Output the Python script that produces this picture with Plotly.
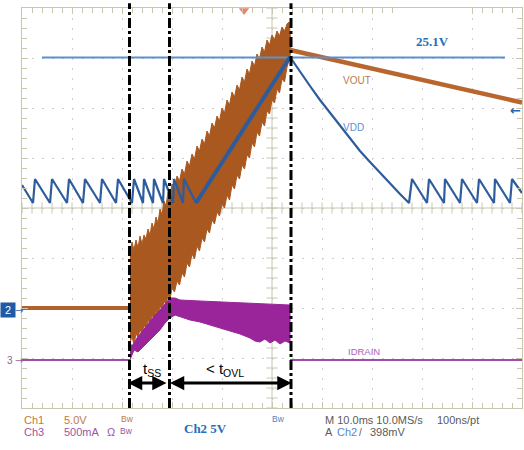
import plotly.graph_objects as go

# Horizontal axis: time in ms (10 ms/div, 10 divisions); vertical axis: screen divisions (0..8)
# ---- VDD (Ch2, blue) ----
vdd_saw_t = [0, 2.2, 2.6, 5.6, 6.0, 9.0, 9.4, 12.2, 12.6, 15.6, 16.0, 18.8, 19.2,
             22.0, 22.4, 24.2, 24.4, 26.2, 26.4, 28.2, 28.4, 30.2, 30.4, 32.2, 32.4, 34.8]
vdd_saw_d = [4.46] + [4.10, 4.58] * 12 + [4.10]
vdd_ramp_t = [34.8, 53.6]
vdd_ramp_d = [4.10, 7.02]
vdd_decay_t = [53.6, 55.6, 57.6, 59.6, 61.6, 63.6, 65.6, 67.6, 69.6, 71.6, 73.6, 75.6,
               77.4, 78.0, 81.0, 81.4, 84.4, 84.6, 87.6, 88.0, 91.0, 91.4, 94.4, 94.6, 97.6, 98.0, 100.0]
vdd_decay_d = [7.02, 6.72, 6.44, 6.16, 5.90, 5.64, 5.38, 5.14, 4.92, 4.70, 4.48, 4.28] + \
              [4.10, 4.58] * 7 + [4.30]

# ---- 25.1 V reference level ----
ref_t = [4.0, 96.6]
ref_d = [7.01, 7.01]

# ---- VOUT (Ch1, brown) ----
vout_flat_t = [0, 21.6]
vout_flat_d = [2.0, 2.0]
vout_top_t = [21.6, 22.0, 22.4, 22.8, 23.2, 23.6, 24.0, 24.4, 24.8, 25.2, 25.6, 26.0, 26.4, 26.8,
              27.2, 27.6, 28.0, 28.4, 28.8, 29.2, 29.6, 30.0, 30.5, 31.0, 31.5, 32.0, 32.5, 33.0,
              33.5, 34.0, 34.5, 35.0, 35.5, 36.0, 36.5, 37.0, 37.5, 38.0, 38.5, 39.0, 39.5, 40.0,
              40.5, 41.0, 41.5, 42.0, 42.5, 43.0, 43.5, 44.0, 44.5, 45.0, 45.5, 46.0, 46.5, 47.0,
              47.5, 48.0, 48.5, 49.0, 49.5, 50.0, 50.5, 51.0, 51.5, 52.0, 52.5, 53.0, 53.4, 53.8]
vout_top_d = [3.10, 3.32, 3.16, 3.36, 3.20, 3.44, 3.28, 3.46, 3.38, 3.58, 3.46, 3.70, 3.58, 3.82,
              3.70, 3.98, 3.86, 4.14, 4.04, 4.32, 4.22, 4.48, 4.38, 4.64, 4.54, 4.78, 4.68, 4.94,
              4.84, 5.08, 4.98, 5.24, 5.14, 5.38, 5.28, 5.54, 5.44, 5.70, 5.60, 5.84, 5.74, 6.00,
              5.90, 6.16, 6.06, 6.32, 6.22, 6.46, 6.36, 6.62, 6.52, 6.78, 6.68, 6.94, 6.84, 7.08,
              6.98, 7.22, 7.12, 7.36, 7.26, 7.46, 7.36, 7.54, 7.44, 7.62, 7.54, 7.68, 7.72, 7.30]
vout_bot_t = [21.6, 22.0, 22.4, 22.8, 23.2, 23.6, 24.0, 24.4, 24.8, 25.2, 25.6, 26.0, 26.4, 26.8,
              27.2, 27.6, 28.0, 28.4, 28.8, 29.2, 29.6, 30.0, 30.5, 31.0, 31.5, 32.0, 32.5, 33.0,
              33.5, 34.0, 34.5, 35.0, 35.5, 36.0, 36.5, 37.0, 37.5, 38.0, 38.5, 39.0, 39.5, 40.0,
              40.5, 41.0, 41.5, 42.0, 42.5, 43.0, 43.5, 44.0, 44.5, 45.0, 45.5, 46.0, 46.5, 47.0,
              47.5, 48.0, 48.5, 49.0, 49.5, 50.0, 50.5, 51.0, 51.5, 52.0, 52.5, 53.0, 53.6]
vout_bot_d = [1.30, 1.44, 1.26, 1.50, 1.40, 1.58, 1.46, 1.66, 1.58, 1.76, 1.68, 1.86, 1.78, 1.94,
              1.86, 2.04, 1.96, 2.14, 2.06, 2.26, 2.18, 2.40, 2.32, 2.54, 2.46, 2.70, 2.62, 2.90,
              2.82, 3.08, 2.98, 3.24, 3.14, 3.40, 3.32, 3.58, 3.50, 3.76, 3.68, 3.92, 3.84, 4.08,
              4.00, 4.26, 4.16, 4.46, 4.38, 4.66, 4.58, 4.86, 4.78, 5.06, 5.00, 5.30, 5.22, 5.52,
              5.44, 5.72, 5.64, 5.94, 5.88, 6.16, 6.10, 6.38, 6.30, 6.58, 6.52, 6.82, 7.02]
vout_decay_t = [53.6, 100.0]
vout_decay_d = [7.16, 6.11]

# ---- IDRAIN (Ch3, purple) ----
id_flat1_t = [0, 21.6]
id_flat1_d = [0.96, 0.96]
id_top_t = [21.6, 22.2, 23.0, 24.6, 25.6, 26.6, 27.6, 28.6, 29.6, 30.6, 31.6, 35.6, 39.6, 43.6, 47.6, 53.6]
id_top_d = [1.26, 1.26, 1.40, 1.60, 1.72, 1.86, 1.96, 2.08, 2.20, 2.20, 2.16, 2.14, 2.12, 2.10, 2.08, 2.06]
id_bot_t = [21.6, 22.4, 23.2, 24.0, 24.6, 25.6, 26.6, 27.6, 28.6, 29.6, 30.6, 31.6, 33.6, 35.6,
            37.6, 39.6, 41.6, 43.6, 45.6, 46.6, 47.6, 48.6, 49.6, 50.6, 51.6, 52.6, 53.6]
id_bot_d = [0.96, 1.16, 1.12, 1.20, 1.26, 1.36, 1.46, 1.56, 1.70, 1.80, 1.86, 1.82, 1.76, 1.72,
            1.66, 1.60, 1.54, 1.48, 1.40, 1.34, 1.32, 1.38, 1.30, 1.36, 1.28, 1.34, 1.30]
id_flat2_t = [53.6, 100.0]
id_flat2_d = [0.96, 0.96]

# ---- cursors / annotations ----
cursor_t = [21.5, 29.5, 53.8]
tss_span = [21.2, 29.2]
tovl_span = [29.6, 54.2]
arrow_d = 0.5

BROWN = "#a9581f"
BLUE = "#2d5c9c"
PURPLE = "#9a259a"
TAN = "#c8c6ae"

fig = go.Figure()

# center cross with ticks
fig.add_trace(go.Scatter(x=[2 * k for k in range(51)], y=[4] * 51, mode="markers",
                         marker=dict(symbol="line-ns", size=8, line=dict(width=1, color=TAN)),
                         hoverinfo="skip", showlegend=False))
fig.add_trace(go.Scatter(x=[50] * 41, y=[0.2 * k for k in range(41)], mode="markers",
                         marker=dict(symbol="line-ew", size=8, line=dict(width=1, color=TAN)),
                         hoverinfo="skip", showlegend=False))

# VOUT
fig.add_trace(go.Scatter(x=vout_flat_t, y=vout_flat_d, mode="lines",
                         line=dict(color="#b0612c", width=4), showlegend=False))
fig.add_trace(go.Scatter(x=vout_top_t + vout_bot_t[::-1], y=vout_top_d + vout_bot_d[::-1],
                         mode="lines", fill="toself", fillcolor=BROWN,
                         line=dict(color=BROWN, width=1), showlegend=False))
fig.add_trace(go.Scatter(x=vout_decay_t, y=vout_decay_d, mode="lines",
                         line=dict(color="#b8652e", width=4.5), showlegend=False))

# IDRAIN
fig.add_trace(go.Scatter(x=id_flat1_t, y=id_flat1_d, mode="lines",
                         line=dict(color="#a04aaa", width=2), showlegend=False))
fig.add_trace(go.Scatter(x=id_top_t + id_bot_t[::-1], y=id_top_d + id_bot_d[::-1],
                         mode="lines", fill="toself", fillcolor=PURPLE,
                         line=dict(color=PURPLE, width=1), showlegend=False))
fig.add_trace(go.Scatter(x=id_flat2_t, y=id_flat2_d, mode="lines",
                         line=dict(color="#a04aaa", width=2), showlegend=False))

# 25.1V level
fig.add_trace(go.Scatter(x=ref_t, y=ref_d, mode="lines",
                         line=dict(color="#5f8fcf", width=1.8), showlegend=False))

# VDD
fig.add_trace(go.Scatter(x=vdd_saw_t, y=vdd_saw_d, mode="lines",
                         line=dict(color=BLUE, width=2.2), showlegend=False))
fig.add_trace(go.Scatter(x=vdd_ramp_t, y=vdd_ramp_d, mode="lines",
                         line=dict(color=BLUE, width=4), showlegend=False))
fig.add_trace(go.Scatter(x=vdd_decay_t, y=vdd_decay_d, mode="lines",
                         line=dict(color=BLUE, width=2.2), showlegend=False))

# trigger marker on top
fig.add_trace(go.Scatter(x=[44.4], y=[7.95], mode="markers", cliponaxis=False,
                         marker=dict(symbol="triangle-down", size=9, color="#f0826a"),
                         showlegend=False))

shapes = []
shapes.append(dict(type="line", xref="x", yref="y", x0=50, x1=50, y0=0, y1=8,
                   line=dict(color=TAN, width=1), layer="between"))
shapes.append(dict(type="line", xref="x", yref="y", x0=0, x1=100, y0=4, y1=4,
                   line=dict(color=TAN, width=1), layer="between"))
shapes.append(dict(type="rect", xref="x", yref="y", x0=75.6, x1=89.2, y0=7.1, y1=8.2,
                   fillcolor="white", line=dict(width=0), layer="above"))
for ct in cursor_t:
    shapes.append(dict(type="line", xref="x", yref="paper", x0=ct, x1=ct, y0=0, y1=1.012,
                       line=dict(color="black", width=3, dash="10px,3px,3px,3px"), layer="above"))

annotations = []
for a, b in (tss_span, tovl_span):
    annotations.append(dict(x=a, y=arrow_d, ax=b, ay=arrow_d, xref="x", yref="y", axref="x", ayref="y",
                            text="", showarrow=True, arrowside="end+start", arrowhead=2,
                            startarrowhead=2, arrowsize=0.95, startarrowsize=0.95,
                            arrowwidth=3, arrowcolor="black", standoff=0, startstandoff=0))


def txt(t, d, s, size=11, color="#555555", family="Liberation Sans", xanchor="left", bold=False, **kw):
    # positions given in ms / divisions, placed in paper space so they can sit outside the grid
    if bold:
        s = "<b>" + s + "</b>"
    a = dict(x=t / 100.0, y=d / 8.0, xref="paper", yref="paper", text=s, showarrow=False,
             xanchor=xanchor, yanchor="middle", font=dict(size=size, color=color, family=family))
    a.update(kw)
    annotations.append(a)


txt(26.0, 0.78, "t<sub>SS</sub>", size=15, color="black", xanchor="center")
txt(36.4, 0.78, "< t<sub>OVL</sub>", size=15, color="black")
txt(82.0, 7.32, "25.1V", size=13, color="#2b6cb8", family="Liberation Serif", xanchor="center", bold=True)
txt(32.0, -0.40, "Ch2 5V", size=13, color="#2b6cb8", family="Liberation Serif", bold=True)
txt(63.8, 6.56, "VOUT", size=10, color="#b87a55")
txt(63.8, 5.62, "VDD", size=10, color="#5f8fd2")
txt(64.8, 1.14, "IDRAIN", size=9.5, color="#b060b8")

ORANGE_T = "#c07a45"
PURPLE_T = "#9a55a5"
GRAY_T = "#5a5a5a"
txt(0, -0.24, "Ch1", color=ORANGE_T)
txt(8.0, -0.24, "5.0V", color=ORANGE_T)
txt(19.4, -0.22, "Bw", size=8.5, color=ORANGE_T)
txt(0, -0.48, "Ch3", color=PURPLE_T)
txt(8.0, -0.48, "500mA", color=PURPLE_T)
txt(16.6, -0.48, "Ω", color=PURPLE_T)
txt(19.2, -0.46, "Bw", size=8.5, color=PURPLE_T)
txt(49.6, -0.22, "Bw", size=8.5, color="#5a7fc0")
txt(60.2, -0.24, "M 10.0ms 10.0MS/s", color=GRAY_T)
txt(82.6, -0.24, "100ns/pt", color=GRAY_T)
txt(60.2, -0.48, "A", color=GRAY_T)
txt(62.6, -0.48, "Ch2", color="#5a86c8")
txt(67.0, -0.48, "/", size=10, color=GRAY_T)
txt(69.2, -0.48, "398mV", color=GRAY_T)

# channel markers
txt(-4.4, 1.96, " 2 ", size=11, color="white", bgcolor="#1f5aa8", borderpad=1)
txt(-1.8, 1.96, "→", size=10, color="#3a6ab0", family="DejaVu Sans")
txt(-3.4, 0.96, "3", size=10, color="#8a6a95")
txt(-1.8, 0.96, "→", size=10, color="#8a6a95", family="DejaVu Sans")
txt(100.2, 5.96, "←", size=13, color="#2a64b0", xanchor="right", family="DejaVu Sans", bold=True)

fig.update_layout(
    width=524, height=450,
    margin=dict(l=22, r=2, t=8, b=42),
    paper_bgcolor="white", plot_bgcolor="white",
    shapes=shapes, annotations=annotations, showlegend=False,
    xaxis=dict(range=[0, 100], dtick=10, tick0=0, showticklabels=False,
               showgrid=True, gridcolor="#cfcfcf", griddash="2px,8px", gridwidth=1,
               zeroline=False, showline=True, linecolor=TAN, linewidth=1, mirror="allticks",
               ticks="inside", ticklen=6, tickcolor=TAN,
               minor=dict(dtick=2, ticks="inside", ticklen=5, tickcolor=TAN, showgrid=False)),
    yaxis=dict(range=[0, 8], dtick=1, tick0=0, showticklabels=False,
               showgrid=True, gridcolor="#cfcfcf", griddash="2px,8px", gridwidth=1,
               zeroline=False, showline=True, linecolor=TAN, linewidth=1, mirror="allticks",
               ticks="inside", ticklen=6, tickcolor=TAN,
               minor=dict(dtick=0.2, ticks="inside", ticklen=5, tickcolor=TAN, showgrid=False)),
)

fig.write_html("out.html")
